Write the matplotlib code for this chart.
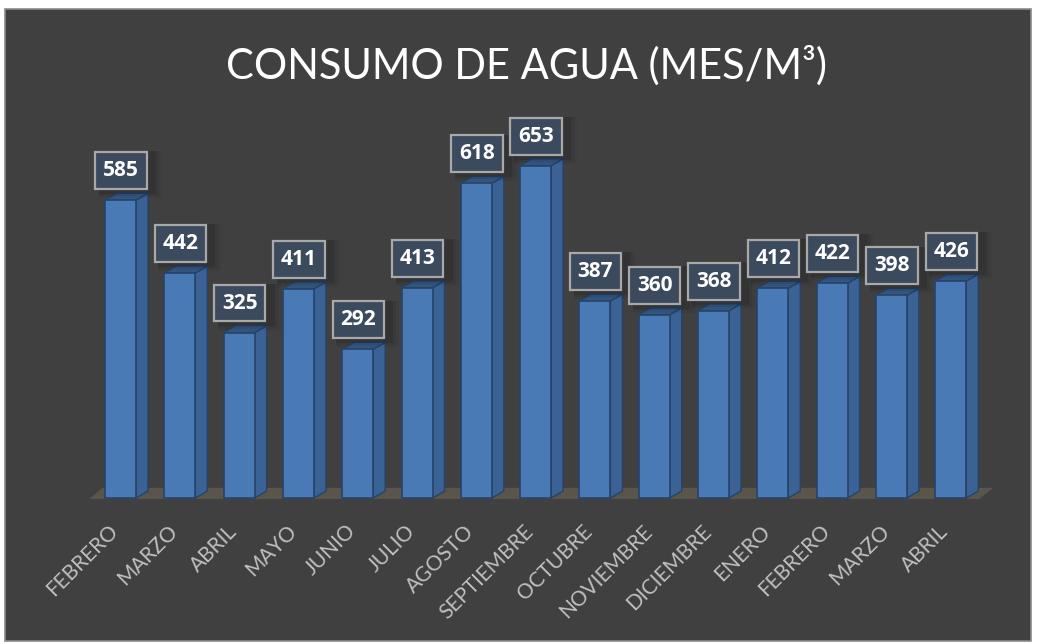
import numpy as np
import matplotlib.pyplot as plt
from matplotlib.patches import Rectangle, Polygon

# ======================= DONNEES =======================
meses = ["FEBRERO", "MARZO", "ABRIL", "MAYO", "JUNIO", "JULIO", "AGOSTO",
         "SEPTIEMBRE", "OCTUBRE", "NOVIEMBRE", "DICIEMBRE", "ENERO",
         "FEBRERO", "MARZO", "ABRIL"]
consumo = [585, 442, 325, 411, 292, 413, 618, 653, 387, 360, 368, 412, 422, 398, 426]
titulo = "CONSUMO DE AGUA (MES/M³)"

W, H = 1037, 644
FOND = "#404040"
FACE = "#4a7ab6"
COTE = "#3b6294"
DESSUS = "#35577f"
BORD = "#26436a"

fig = plt.figure(figsize=(W / 100, H / 100), dpi=100, facecolor="white")
fig.patches.append(Rectangle((5 / W, 1 - 641 / H), 1026 / W, 632 / H,
                             transform=fig.transFigure, facecolor=FOND,
                             edgecolor="#8a8a8a", linewidth=1.2, zorder=-10))

# axes en pixels : centre barre i -> 120.5 + 59.3*i ; y=0 -> pixel 498
px_l, px_r, py_b, py_t = 60, 1020, 498, 100
ax = fig.add_axes([px_l / W, 1 - py_b / H, (px_r - px_l) / W, (py_b - py_t) / H])
ax.set_zorder(1)
ax.set_xlim((px_l - 120.5) / 59.3, (px_r - 120.5) / 59.3)
ax.set_ylim(0, (py_b - py_t) / 0.509)
ax.axis("off")

dx, dy = 12 / 59.3, 7 / 0.509
w = 31 / 59.3

# sol
sol = Polygon([(-0.53, -2), (14.48, -2), (14.72, 20), (-0.30, 20)], closed=True,
              facecolor="#59554a", edgecolor="none", zorder=1, clip_on=False)
ax.add_patch(sol)

for i, v in enumerate(consumo):
    x0, x1 = i - w / 2, i + w / 2
    ax.add_patch(Polygon([(x1, 0), (x1 + dx, dy), (x1 + dx, v + dy), (x1, v)],
                         facecolor=COTE, edgecolor=BORD, linewidth=1, zorder=2, clip_on=False))
    ax.add_patch(Polygon([(x0, v), (x1, v), (x1 + dx, v + dy), (x0 + dx, v + dy)],
                         facecolor=DESSUS, edgecolor=BORD, linewidth=1, zorder=2, clip_on=False))
    ax.add_patch(Rectangle((x0, 0), w, v, facecolor=FACE, edgecolor=BORD,
                           linewidth=1.2, zorder=3, clip_on=False))
    # ombre douce sous l'etiquette
    for k, a in enumerate([0.08, 0.06, 0.04]):
        ax.add_patch(Rectangle((i - 0.40 + 0.04, v + 12 - 4 * k), 0.96 + 0.05 * k, 84 + 4 * k,
                               facecolor="black", alpha=a, edgecolor="none", zorder=4))
    ax.text(i + 0.01, v + 58, str(v), ha="center", va="center", color="white",
            fontsize=15, fontweight="bold", family="Open Sans", zorder=5,
            bbox=dict(boxstyle="square,pad=0.38", facecolor="#3c4a5e",
                      edgecolor="#a9a9a9", linewidth=1.6))
    ax.text(i - 0.09, -59, meses[i], ha="right", va="center", rotation=45,
            rotation_mode="anchor", color="#bfbfbf", fontsize=15,
            family="Lato", zorder=5, clip_on=False)

fig.text(526 / W, 1 - 66 / H, titulo, ha="center", va="center", color="white",
         fontsize=30, family="Lato", zorder=2)

fig.savefig("out.png", dpi=100, facecolor=fig.get_facecolor())
